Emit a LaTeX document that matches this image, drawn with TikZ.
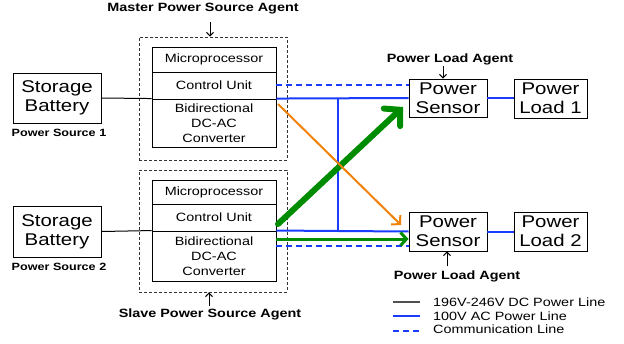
\documentclass[tikz,border=0pt]{standalone}
\usepackage{fontspec}
\setmainfont{Liberation Sans}[FakeStretch=1.2]
\usetikzlibrary{arrows.meta}
\definecolor{lblue}{RGB}{25,60,255}
\definecolor{lgreen}{RGB}{0,140,0}
\definecolor{lorange}{RGB}{240,130,10}
\definecolor{dcgray}{RGB}{80,80,80}
\tikzset{
  bigbox/.style={draw, line width=0.9pt, inner sep=0pt, align=center, font=\fontsize{17}{19}\selectfont},
  unitbox/.style={draw, line width=0.9pt, inner sep=0pt, align=center, minimum width=124pt, font=\fontsize{12}{15}\selectfont},
  agentbox/.style={draw=black!80, dash pattern=on 3pt off 2pt, line width=0.9pt, minimum width=148pt, inner sep=0pt},
  agentlbl/.style={font=\bfseries\fontsize{12}{14}\selectfont, inner sep=0pt},
  srclbl/.style={font=\bfseries\fontsize{10.5}{12}\selectfont, inner sep=0pt},
  lblarrow/.style={line width=1pt, -{Straight Barb[length=3.5pt,width=7pt]}},
  dcline/.style={line width=1pt, black},
  acline/.style={line width=2pt, lblue},
  comline/.style={line width=1.6pt, lblue, dash pattern=on 6pt off 4pt},
  legtext/.style={anchor=west, inner sep=0pt, font=\fontsize{12}{14}\selectfont},
}
\begin{document}
\begin{tikzpicture}[x=1pt,y=-1pt]
\useasboundingbox (0,0) rectangle (624,343);

% agent boxes
\node[agentbox, minimum height=123pt] (mbox) at (213,98.5) {};
\node[agentbox, minimum height=122pt] (sbox) at (213,231) {};

% master unit
\node[unitbox, minimum height=25pt] (mp1) at (214,59.5) {Microprocessor};
\node[unitbox, minimum height=27pt] (cu1) at (214,85.5) {Control Unit};
\node[unitbox, minimum height=48pt] (conv1) at (214,123) {Bidirectional\\DC-AC\\Converter};
% slave unit
\node[unitbox, minimum height=24pt] (mp2) at (214,192) {Microprocessor};
\node[unitbox, minimum height=27pt] (cu2) at (214,217.5) {Control Unit};
\node[unitbox, minimum height=50pt] (conv2) at (214,256) {Bidirectional\\DC-AC\\Converter};

% batteries
\node[bigbox, minimum width=88pt, minimum height=50pt] (bat1) at (57,98) {Storage\\Battery};
\node[bigbox, minimum width=88pt, minimum height=51pt] (bat2) at (57,231.5) {Storage\\Battery};
\node[srclbl] (ps1) at (59,133) {Power Source 1};
\node[srclbl] (ps2) at (59,267) {Power Source 2};

% sensors and loads
\node[bigbox, minimum width=78pt, minimum height=38pt] (sens1) at (448,98) {Power\\Sensor};
\node[bigbox, minimum width=73pt, minimum height=39pt] (load1) at (550.5,98.5) {Power\\Load 1};
\node[bigbox, minimum width=78pt, minimum height=39pt] (sens2) at (448,231.5) {Power\\Sensor};
\node[bigbox, minimum width=73pt, minimum height=39pt] (load2) at (550.5,231.5) {Power\\Load 2};

% agent labels
\node[agentlbl] (mlbl) at (203,9) {Master Power Source Agent};
\node[agentlbl] (slbl) at (210,314) {Slave Power Source Agent};
\node[agentlbl] (pla1) at (450,59) {Power Load Agent};
\node[agentlbl] (pla2) at (457,276) {Power Load Agent};
\coordinate (ma) at (210,22);
\coordinate (sa) at (209,306);
\coordinate (pa1) at (443,66);
\coordinate (pa2) at (447,266);
\draw[lblarrow] (ma) -- (ma |- mbox.north);
\draw[lblarrow] (sa) -- (sa |- sbox.south);
\draw[lblarrow] (pa1) -- (pa1 |- sens1.north);
\draw[lblarrow] (pa2) -- (pa2 |- sens2.south);

% DC lines
\draw[dcline] (bat1.east) -- (conv1.north west);
\draw[dcline] (bat2.east) -- (conv2.north west);

% AC lines
\coordinate (j1) at (338,98);
\coordinate (j2) at (338,231.5);
\draw[acline] (conv1.north east) -- (sens1.west);
\draw[acline] (sens1.east) -- (load1.west |- sens1.east);
\draw[acline] (conv2.north east) -- (sens2.west);
\draw[acline] (sens2.east) -- (load2.west |- sens2.east);
\draw[acline] (j1) -- (j2);

% communication lines
\coordinate (c1) at (276,85);
\draw[comline] (c1) -- (c1 -| sens1.west);
\coordinate (c2) at (276,246);
\draw[comline] (c2) -- (c2 -| sens2.west);

% power flow arrows
\coordinate (g1s) at (278,224);
\coordinate (g1e) at (403,107);
\draw[lgreen, line width=6pt, line cap=round, -{Straight Barb[length=11pt,width=24pt,line cap=round]}] (g1s) -- (g1e);
\coordinate (g2s) at (276,239);
\draw[lgreen, line width=3pt, -{Straight Barb[length=6pt,width=13pt]}] (g2s) -- (g2s -| sens2.west);
\coordinate (o1s) at (278,104);
\coordinate (o1e) at (401,225);
\draw[lorange, line width=2pt, -{Straight Barb[length=6pt,width=13pt]}] (o1s) -- (o1e);

% legend
\coordinate (l1) at (393,302);
\coordinate (l2) at (393,316);
\coordinate (l3) at (393,331);
\draw[dcgray, line width=1.2pt] (l1) -- ++(27,0);
\draw[lblue, line width=2pt] (l2) -- ++(27,0);
\draw[lblue, line width=1.6pt, dash pattern=on 6pt off 4pt] (l3) -- ++(27,0);
\node[legtext] (t1) at (433,302) {196V-246V DC Power Line};
\node[legtext] (t2) at (433,316) {100V AC Power Line};
\node[legtext] (t3) at (433,329) {Communication Line};
\end{tikzpicture}
\end{document}
